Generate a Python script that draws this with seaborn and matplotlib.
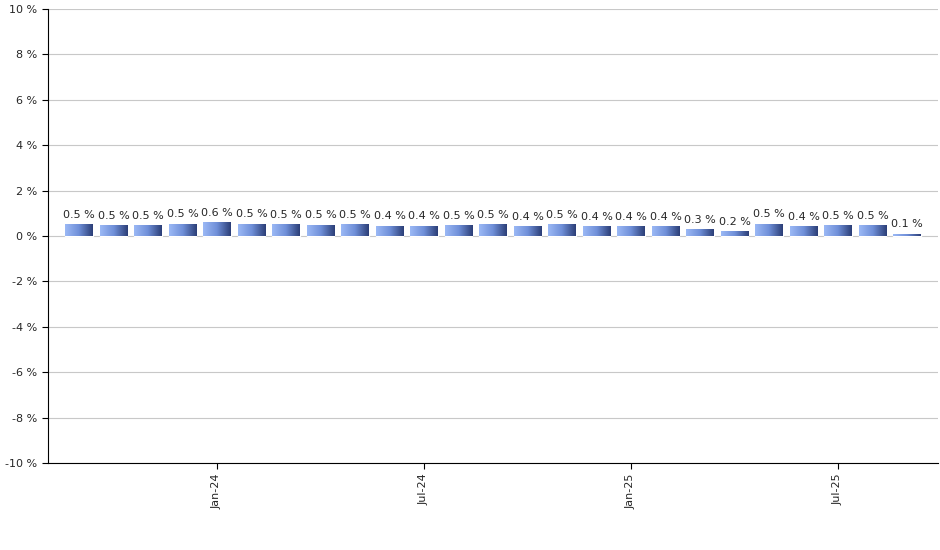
import matplotlib
matplotlib.use("Agg")
import matplotlib.pyplot as plt
import seaborn as sns
import numpy as np
import pandas as pd

months = ["Sep-23","Oct-23","Nov-23","Dec-23","Jan-24","Feb-24","Mar-24","Apr-24","May-24","Jun-24",
          "Jul-24","Aug-24","Sep-24","Oct-24","Nov-24","Dec-24","Jan-25","Feb-25","Mar-25","Apr-25",
          "May-25","Jun-25","Jul-25","Aug-25","Sep-25"]
values = [0.52,0.48,0.48,0.55,0.60,0.55,0.52,0.50,0.52,0.45,
          0.45,0.47,0.52,0.42,0.52,0.42,0.42,0.42,0.30,0.20,
          0.55,0.42,0.48,0.48,0.10]
labels = ["0.5 %","0.5 %","0.5 %","0.5 %","0.6 %","0.5 %","0.5 %","0.5 %","0.5 %","0.4 %",
          "0.4 %","0.5 %","0.5 %","0.4 %","0.5 %","0.4 %","0.4 %","0.4 %","0.3 %","0.2 %",
          "0.5 %","0.4 %","0.5 %","0.5 %","0.1 %"]
shown_ticks = ["Jan-24","Jul-24","Jan-25","Jul-25"]

sns.set_style("white")
plt.rcParams['font.family'] = ['DejaVu Sans']
fig = plt.figure(figsize=(9.4,5.5), dpi=100)
ax = fig.add_axes([48/940, 1-463/550, 890/940, 454/550])
df = pd.DataFrame({"m": months, "v": values})
sns.barplot(data=df, x="m", y="v", ax=ax, color="#7f9fe0", width=0.8, zorder=3)

# gradient fill
cmap = matplotlib.colors.LinearSegmentedColormap.from_list("g", ["#9bb8f5", "#6f8fd8", "#2c3f78"])
grad = np.linspace(0, 1, 64).reshape(1, -1)
for p in ax.patches:
    x0, y0 = p.get_x(), p.get_y()
    w, h = p.get_width(), p.get_height()
    im = ax.imshow(grad, cmap=cmap, aspect="auto", extent=[x0, x0+w, y0, y0+h], zorder=4)
    im.set_clip_path(p)
    ax.text(x0 + w/2, y0 + h + 0.2, labels[ax.patches.index(p)], ha="center", va="bottom",
            fontsize=8, zorder=5)

ax.set_xlim(-0.9, len(months) - 0.5 + 0.4)
ax.set_ylim(-10, 10)
ax.set_yticks(range(-10, 11, 2))
ax.set_yticklabels([f"{t} %" for t in range(-10, 11, 2)], fontsize=8)
pos = [months.index(t) for t in shown_ticks]
ax.set_xticks(pos)
ax.set_xticklabels(shown_ticks, rotation=90, fontsize=8)
ax.tick_params(axis="both", length=4, color="black", direction="out", bottom=True, left=True)
ax.grid(axis="y", color="#c8c8c8", lw=0.8, zorder=0)
for s in ["top", "right"]:
    ax.spines[s].set_visible(False)
for s in ["left", "bottom"]:
    ax.spines[s].set_color("black"); ax.spines[s].set_linewidth(0.8)
ax.set_xlabel(""); ax.set_ylabel("")
fig.savefig("out.png", dpi=100)
